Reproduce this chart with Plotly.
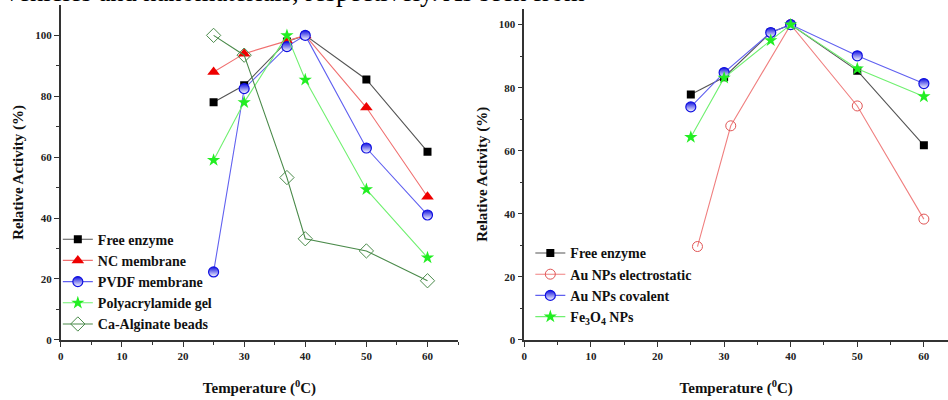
import plotly.graph_objects as go

# ---------------- data ----------------
temps_left = [25, 30, 37, 40, 50, 60]
free_left = [78, 83.6, 98, 100, 85.5, 61.8]
nc_membrane = [88, 94, 98.2, 100, 76.3, 47]
pvdf_membrane = [22.3, 82.5, 96.3, 100, 63, 41]
polyacrylamide = [59, 78, 100, 85.4, 49.4, 27]
ca_alginate = [100, 93.5, 53.3, 33.2, 29.2, 19.4]

temps_right = [25, 30, 37, 40, 50, 60]
free_right = [77.8, 83.3, 97.5, 100, 85.4, 61.7]
temps_elec = [26, 31, 40, 50, 60]
au_elec = [29.6, 67.9, 100, 74.2, 38.3]
au_cov = [73.9, 84.8, 97.5, 100, 90.1, 81.3]
fe3o4 = [64.3, 83.1, 95, 100, 86, 77.2]

x_ticks = [0, 10, 20, 30, 40, 50, 60]
y_ticks = [0, 20, 40, 60, 80, 100]

W, H = 948, 400
SERIF = "Liberation Serif"

fig = go.Figure()

def add(x, y, name, line_color, marker, xa, ya, legend):
    fig.add_trace(go.Scatter(
        x=x, y=y, name=name, mode="lines+markers",
        line=dict(color=line_color, width=1.1),
        marker=marker, xaxis=xa, yaxis=ya, legend=legend))

half_blue = dict(symbol="circle", size=10, color="#1010e0",
                 gradient=dict(type="vertical", color="white"),
                 line=dict(color="#1010e0", width=1.2))

# left panel
add(temps_left, free_left, "Free enzyme", "#555555",
    dict(symbol="square", size=8, color="black"), "x", "y", "legend")
add(temps_left, nc_membrane, "NC membrane", "#f07070",
    dict(symbol="triangle-up", size=11, color="#ee0000"), "x", "y", "legend")
add(temps_left, pvdf_membrane, "PVDF membrane", "#6060f0", half_blue, "x", "y", "legend")
add(temps_left, polyacrylamide, "Polyacrylamide gel", "#70f070",
    dict(symbol="star", size=10, color="#22ee22"), "x", "y", "legend")
add(temps_left, ca_alginate, "Ca-Alginate beads", "#4a8a4a",
    dict(symbol="diamond-open", size=11, color="#4a8a4a", line=dict(width=1)), "x", "y", "legend")

# right panel
add(temps_right, free_right, "Free enzyme", "#555555",
    dict(symbol="square", size=8, color="black"), "x2", "y2", "legend2")
add(temps_elec, au_elec, "Au NPs electrostatic", "#f08080",
    dict(symbol="circle-open", size=10, color="#e05555", line=dict(width=1)), "x2", "y2", "legend2")
add(temps_right, au_cov, "Au NPs covalent", "#6060f0", half_blue, "x2", "y2", "legend2")
add(temps_right, fe3o4, "Fe<sub>3</sub>O<sub>4</sub> NPs", "#70f070",
    dict(symbol="star", size=10, color="#22ee22"), "x2", "y2", "legend2")

tickfont = dict(family=SERIF, size=11, color="#222222", weight="bold")
title_font = dict(family=SERIF, size=15, color="#111111", weight="bold")

def xaxis(domain, rng):
    return dict(domain=domain, range=rng, tickvals=x_ticks, ticks="outside", ticklen=5,
                tickwidth=1.2, tickcolor="#333", showline=True, linecolor="#333", linewidth=1.6,
                showgrid=False, zeroline=False, tickfont=tickfont,
                minor=dict(tickvals=[5, 15, 25, 35, 45, 55, 65], ticks="outside", ticklen=3,
                           tickcolor="#333", tickwidth=1.2),
                title=dict(text="Temperature (<sup>0</sup>C)", font=title_font, standoff=22))

def yaxis(domain, rng, anchor):
    return dict(domain=domain, range=rng, tickvals=y_ticks, ticks="outside", ticklen=5,
                tickwidth=1.2, tickcolor="#333", showline=True, linecolor="#333", linewidth=1.6,
                showgrid=False, zeroline=False, tickfont=tickfont, anchor=anchor,
                minor=dict(tickvals=[10, 30, 50, 70, 90], ticks="outside", ticklen=3,
                           tickcolor="#333", tickwidth=1.2),
                title=dict(text="Relative Activity (%)", font=dict(title_font, size=15), standoff=8))

legend_font = dict(family=SERIF, size=14, color="#111", weight="bold")
y_bottom = (H - 345) / H
fig.update_layout(
    width=W, height=H, margin=dict(l=0, r=0, t=0, b=0),
    paper_bgcolor="white", plot_bgcolor="white",
    xaxis=dict(xaxis([58 / W, 456.5 / W], [0, 65]), anchor="y"),
    yaxis=yaxis([y_bottom, (H - 5) / H], [0, 110], "x"),
    xaxis2=dict(xaxis([523 / W, 1.0], [0, (W - 523) / 6.68]), anchor="y2"),
    yaxis2=yaxis([y_bottom, (H - 9) / H], [0, 105], "x2"),
    legend=dict(x=55 / W, y=(H - 227) / H, xanchor="left", yanchor="top",
                bgcolor="rgba(0,0,0,0)", font=legend_font,
                tracegroupgap=0, itemwidth=30),
    legend2=dict(x=529 / W, y=(H - 241) / H, xanchor="left", yanchor="top",
                 bgcolor="rgba(0,0,0,0)", font=legend_font,
                 tracegroupgap=0, itemwidth=30),
    showlegend=True,
    annotations=[dict(text="vehicles and nanomaterials, respectively. As seen from",
                      x=0, y=(H - 9) / H, xref="paper", yref="paper", xanchor="left",
                      yanchor="bottom", showarrow=False,
                      font=dict(family=SERIF, size=26.5, color="black"))],
)

fig.write_html("out.html", config={"displayModeBar": False})
